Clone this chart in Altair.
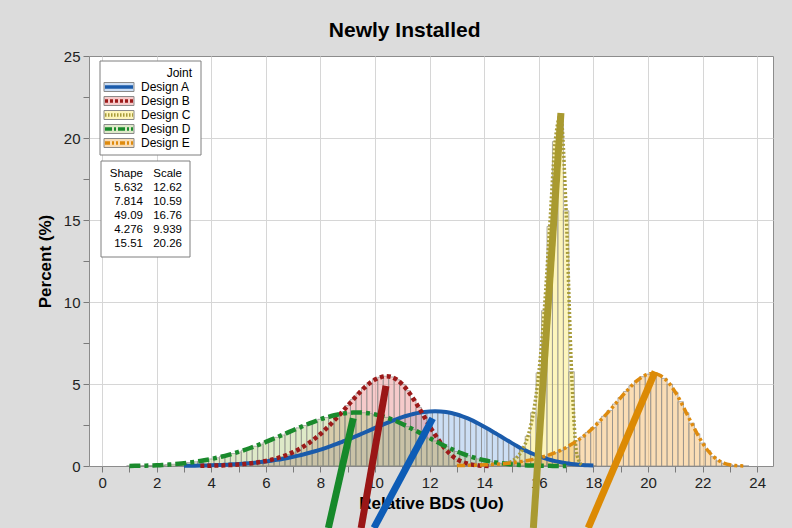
import altair as alt
import pandas as pd

# ---------------- data ----------------
designs = ["Design A", "Design B", "Design C", "Design D", "Design E"]
shape_vals = ["5.632", "7.814", "49.09", "4.276", "15.51"]
scale_vals = ["12.62", "10.59", "16.76", "9.939", "20.26"]

bin_width = 0.2
first_bin = [3.0, 3.6, 14.8, 1.0, 13.0]   # centre of the first 0.2-wide bin of each design

pct_a = [0.012, 0.015, 0.021, 0.027, 0.035, 0.044, 0.054, 0.067, 0.083, 0.102,
         0.122, 0.147, 0.174, 0.205, 0.241, 0.281, 0.325, 0.376, 0.431, 0.493,
         0.561, 0.635, 0.717, 0.806, 0.901, 1.001, 1.11, 1.225, 1.345, 1.475,
         1.606, 1.745, 1.885, 2.03, 2.175, 2.32, 2.46, 2.60, 2.735, 2.86,
         2.977, 3.08, 3.17, 3.24, 3.295, 3.328, 3.338, 3.325, 3.29, 3.23,
         3.142, 3.03, 2.90, 2.75, 2.58, 2.40, 2.21, 2.01, 1.81, 1.61,
         1.409, 1.22, 1.04, 0.88, 0.73, 0.596, 0.48, 0.38, 0.295, 0.225,
         0.168, 0.123, 0.088, 0.062, 0.043, 0.029]
pct_b = [0.009, 0.013, 0.019, 0.027, 0.037, 0.05, 0.067, 0.089, 0.115, 0.149,
         0.19, 0.242, 0.304, 0.378, 0.468, 0.575, 0.70, 0.845, 1.01, 1.21,
         1.43, 1.68, 1.952, 2.26, 2.59, 2.94, 3.30, 3.679, 4.06, 4.42,
         4.76, 5.05, 5.271, 5.41, 5.476, 5.43, 5.26, 4.978, 4.59, 4.10,
         3.57, 3.01, 2.429, 1.90, 1.42, 0.99, 0.65, 0.417, 0.25, 0.14,
         0.07, 0.033, 0.014, 0.006]
pct_c = [0.15, 0.28, 0.53, 0.99, 1.81, 3.25, 5.68, 9.47, 14.61, 19.78,
         21.35, 15.56, 5.75, 0.66, 0.01]
pct_d = [0.005, 0.008, 0.014, 0.022, 0.032, 0.045, 0.06, 0.081, 0.105, 0.135,
         0.169, 0.21, 0.254, 0.305, 0.363, 0.427, 0.499, 0.578, 0.664, 0.758,
         0.859, 0.966, 1.082, 1.205, 1.333, 1.467, 1.606, 1.748, 1.891, 2.037,
         2.183, 2.326, 2.466, 2.60, 2.727, 2.846, 2.952, 3.046, 3.126, 3.188,
         3.232, 3.257, 3.262, 3.246, 3.21, 3.145, 3.063, 2.963, 2.848, 2.713,
         2.564, 2.40, 2.232, 2.058, 1.88, 1.701, 1.525, 1.354, 1.188, 1.033,
         0.887, 0.752, 0.632, 0.525, 0.43, 0.349, 0.28, 0.222, 0.173, 0.133,
         0.099, 0.073, 0.053, 0.038, 0.027, 0.019, 0.013, 0.009, 0.006, 0.004,
         0.0025]
pct_e = [0.025, 0.031, 0.038, 0.047, 0.058, 0.072, 0.087, 0.107, 0.131, 0.159,
         0.194, 0.235, 0.282, 0.338, 0.405, 0.486, 0.58, 0.69, 0.81, 0.955,
         1.124, 1.32, 1.535, 1.77, 2.04, 2.346, 2.68, 3.03, 3.39, 3.78,
         4.168, 4.54, 4.895, 5.20, 5.445, 5.599, 5.645, 5.56, 5.34, 4.99,
         4.503, 3.92, 3.25, 2.61, 1.97, 1.398, 0.93, 0.57, 0.32, 0.165,
         0.076, 0.031, 0.011, 0.003]
pct_all = [pct_a, pct_b, pct_c, pct_d, pct_e]

# thick annotation strokes (data coordinates)
ann_x_bottom = [9.96, 9.49, 15.80, 8.29, 17.81]
ann_y_bottom = [-3.78, -3.78, -3.78, -3.78, -3.78]
ann_x_top = [12.11, 10.40, 16.81, 9.20, 20.26]
ann_y_top = [2.91, 4.88, 21.52, 2.91, 5.75]

# ---------------- styles ----------------
line_colors = ["#1a5bab", "#9c1a1a", "#a89c3a", "#1a8a2c", "#de8b0e"]
fill_colors = ["#8fb5e6", "#e98a8a", "#fbe96a", "#b5cf86", "#f5b45a"]
ann_colors = ["#0d5cb6", "#9a1616", "#a99a30", "#16892a", "#dc8a04"]
dashes = [None, [4, 3], [2, 2], [11, 4, 4, 4], [8, 3, 3, 3, 3, 3]]
line_widths = [4, 4.5, 3.5, 4.5, 3.5]
legend_dashes = [None, [3, 2], [1.5, 1.5], [7, 2, 2, 2], [5, 2, 2, 2, 2, 2]]

FONT = "Liberation Sans"
PL, PT, PW, PH = 89, 56, 684, 410
XD = [-0.48, 24.58]
YD = [0, 25]


def gx(px):
    return XD[0] + (px - PL) * (XD[1] - XD[0]) / PW


def gy(py):
    return YD[1] - (py - PT) * (YD[1] - YD[0]) / PH


GRID = "#d6d6d6"
AXC = "#7a7a7a"

xaxis = alt.Axis(
    values=list(range(0, 25)),
    labelExpr="datum.value % 2 === 0 ? '' + datum.value : ''",
    labelOverlap=False, labelFlush=False,
    grid=True, gridColor=GRID, gridWidth=1,
    gridOpacity={"condition": {"test": "datum.value % 2 === 0", "value": 1}, "value": 0},
    domain=False, tickColor=AXC, tickSize=6, tickWidth=1,
    labelFont=FONT, labelFontSize=15, labelColor="#222222", labelPadding=3,
    titleFont=FONT, titleFontSize=17, titleFontWeight="bold", titleColor="black",
    titlePadding=5,
)
yaxis = alt.Axis(
    values=[i * 2.5 for i in range(11)],
    labelExpr="datum.value % 5 === 0 ? '' + datum.value : ''",
    labelOverlap=False, labelFlush=False,
    grid=True, gridColor=GRID, gridWidth=1,
    gridOpacity={"condition": {"test": "datum.value % 5 === 0 && datum.value > 0 && datum.value < 25",
                               "value": 1}, "value": 0},
    domain=False, tickColor=AXC, tickSize=6, tickWidth=1,
    labelFont=FONT, labelFontSize=15, labelColor="#222222", labelPadding=3,
    titleFont=FONT, titleFontSize=17, titleFontWeight="bold", titleColor="black",
    titlePadding=9,
)
xscale = alt.Scale(domain=XD, nice=False, zero=False)
yscale = alt.Scale(domain=YD, nice=False, zero=False)


def X(f):
    return alt.X(f, type="quantitative", scale=xscale, axis=xaxis, title="Relative BDS (Uo)")


def Y(f):
    return alt.Y(f, type="quantitative", scale=yscale, axis=yaxis, title="Percent (%)")


bar_layers = []
line_layers = []
for i, d in enumerate(designs):
    vals = pct_all[i]
    xs = [round(first_bin[i] + bin_width * k, 2) for k in range(len(vals))]
    df = pd.DataFrame({"x": xs, "y": vals})
    df["x0"] = df["x"] - bin_width / 2
    df["x1"] = df["x"] + bin_width / 2
    df["y0"] = 0.0
    bar_layers.append(
        alt.Chart(df).mark_rect(fill=fill_colors[i], fillOpacity=0.45,
                                stroke="#8a8a8a", strokeWidth=0.8, strokeOpacity=0.85)
        .encode(x=X("x0"), x2=alt.X2("x1"), y=Y("y"), y2=alt.Y2("y0"))
    )
    lkw = dict(color=line_colors[i], strokeWidth=line_widths[i], interpolate="monotone")
    if dashes[i]:
        lkw["strokeDash"] = dashes[i]
    line_layers.append(alt.Chart(df).mark_line(**lkw).encode(x=X("x"), y=Y("y")))

# annotation strokes
ann_df = pd.DataFrame({"design": designs, "x": ann_x_bottom, "y": ann_y_bottom,
                       "x2": ann_x_top, "y2": ann_y_top})
ann_layer = alt.Chart(ann_df).mark_rule(strokeWidth=7, strokeCap="butt").encode(
    x=X("x"), y=Y("y"), x2=alt.X2("x2"), y2=alt.Y2("y2"),
    color=alt.Color("design:N", scale=alt.Scale(domain=designs, range=ann_colors), legend=None),
)

# ---------------- legend (Joint) ----------------
box_df = pd.DataFrame({"x": [gx(100), gx(101)], "x2": [gx(201), gx(190)],
                       "y": [gy(61), gy(161)], "y2": [gy(155), gy(257)]})
box_layer = alt.Chart(box_df).mark_rect(fill="white", stroke="#7f7f7f", strokeWidth=1).encode(
    x=X("x"), x2=alt.X2("x2"), y=Y("y"), y2=alt.Y2("y2"))

legend_layers = []
for i, d in enumerate(designs):
    yc = 87 + 14 * i
    sw = pd.DataFrame({"x": [gx(104)], "x2": [gx(134)], "y": [gy(yc - 4.5)], "y2": [gy(yc + 4.5)],
                       "ym": [gy(yc)], "xl": [gx(105)], "xr": [gx(133)]})
    legend_layers.append(
        alt.Chart(sw).mark_rect(fill=fill_colors[i], fillOpacity=0.45, stroke="#8a8a8a", strokeWidth=1)
        .encode(x=X("x"), x2=alt.X2("x2"), y=Y("y"), y2=alt.Y2("y2")))
    rkw = dict(color=line_colors[i], strokeWidth=3.5, strokeCap="butt")
    if legend_dashes[i]:
        rkw["strokeDash"] = legend_dashes[i]
    legend_layers.append(
        alt.Chart(sw).mark_rule(**rkw).encode(x=X("xl"), x2=alt.X2("xr"), y=Y("ym")))

leg_text_df = pd.DataFrame({"x": [gx(141)] * 5, "y": [gy(87 + 14 * i) for i in range(5)],
                            "label": designs})
leg_text = alt.Chart(leg_text_df).mark_text(font=FONT, fontSize=12, align="left", baseline="middle",
                                            color="black").encode(x=X("x"), y=Y("y"), text="label:N")
joint_df = pd.DataFrame({"x": [gx(192)], "y": [gy(73)], "label": ["Joint"]})
joint_text = alt.Chart(joint_df).mark_text(font=FONT, fontSize=12, align="right", baseline="middle",
                                           color="black").encode(x=X("x"), y=Y("y"), text="label:N")

# ---------------- parameter table ----------------
tab_shape_df = pd.DataFrame({"x": [gx(143)] * 6, "y": [gy(174 + 14 * i) for i in range(6)],
                             "label": ["Shape"] + shape_vals})
tab_scale_df = pd.DataFrame({"x": [gx(182)] * 6, "y": [gy(174 + 14 * i) for i in range(6)],
                             "label": ["Scale"] + scale_vals})
tab_shape = alt.Chart(tab_shape_df).mark_text(font=FONT, fontSize=11.5, align="right", baseline="middle",
                                              color="black").encode(x=X("x"), y=Y("y"), text="label:N")
tab_scale = alt.Chart(tab_scale_df).mark_text(font=FONT, fontSize=11.5, align="right", baseline="middle",
                                              color="black").encode(x=X("x"), y=Y("y"), text="label:N")

chart = alt.layer(
    *bar_layers, *line_layers, ann_layer, box_layer, *legend_layers,
    leg_text, joint_text, tab_shape, tab_scale,
).properties(
    width=PW, height=PH,
    padding={"left": PL, "top": PT, "right": 792 - PL - PW, "bottom": 528 - PT - PH},
    autosize=alt.AutoSizeParams(type="none"),
    background="#dcdcdc",
    title=alt.TitleParams(text="Newly Installed", font=FONT, fontSize=21, fontWeight="bold",
                          color="black", anchor="middle", frame="bounds", offset=8),
).configure_view(stroke="#8c8c8c", strokeWidth=1, fill="white")

chart.save("out.html", embed_options={"renderer": "svg", "actions": False})
